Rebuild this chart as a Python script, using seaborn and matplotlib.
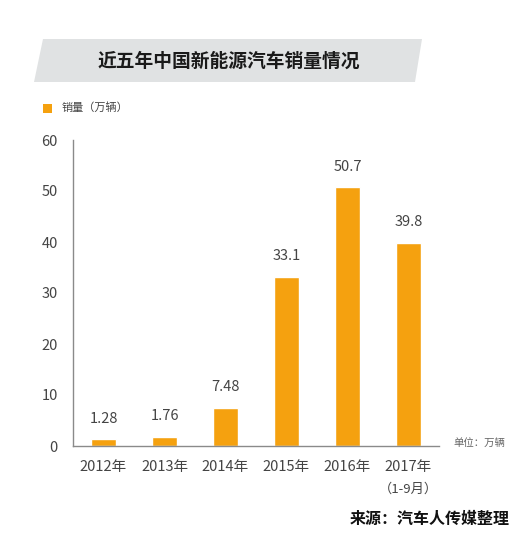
import matplotlib
matplotlib.use('agg')
import matplotlib.pyplot as plt
from matplotlib.patches import Polygon, Rectangle
import pandas as pd
import seaborn as sns

years = ["2012年", "2013年", "2014年", "2015年", "2016年", "2017年"]
sales = [1.28, 1.76, 7.48, 33.1, 50.7, 39.8]
value_labels = ["1.28", "1.76", "7.48", "33.1", "50.7", "39.8"]
y_ticks = [0, 10, 20, 30, 40, 50, 60]

title = "近五年中国新能源汽车销量情况"
legend_label = "销量（万辆）"
unit_note = "单位：万辆"
source_note = "来源：汽车人传媒整理"
last_note = "（1-9月）"

bar_color = "#F5A10F"
text_color = "#444444"
spine_color = "#8a8a8a"

sns.set_style("white")
plt.rcParams['font.family'] = ['Noto Sans CJK SC', 'DejaVu Sans']

df = pd.DataFrame({"year": years, "sales": sales})

fig = plt.figure(figsize=(5.3, 5.56), dpi=100)
W, H = 530, 556


def fx(x):
    return x / W


def fy(y):
    return 1 - y / H


# title band
band = Polygon([(fx(43), fy(39)), (fx(422), fy(39)), (fx(415), fy(82)),
                (fx(34), fy(82))], closed=True, transform=fig.transFigure,
               facecolor="#e0e2e3", edgecolor="none", zorder=1)
fig.patches.append(band)
fig.text(fx(229), fy(61), title, fontsize=13.5, fontweight="bold",
         color="#1a1a1a", ha="center", va="center", zorder=2)

# legend
fig.patches.append(Rectangle((fx(43), fy(113)), 9 / W, 9 / H,
                             transform=fig.transFigure, facecolor=bar_color,
                             edgecolor="none"))
fig.text(fx(62), fy(108), legend_label, fontsize=8, color=text_color,
         ha="left", va="center")

ax = fig.add_axes([fx(73), fy(446), 366 / W, 306 / H])
ax.patch.set_alpha(0)
sns.barplot(data=df, x="year", y="sales", color=bar_color, width=0.4,
            saturation=1, ax=ax)

ax.set_xlim(-0.5, len(years) - 0.5)
ax.set_ylim(0, 60)
ax.set_yticks(y_ticks)
ax.set_xlabel("")
ax.set_ylabel("")
sns.despine(ax=ax)
for s in ["left", "bottom"]:
    ax.spines[s].set_color(spine_color)
    ax.spines[s].set_linewidth(1)

ax.tick_params(axis="y", direction="in", length=7, width=1,
               color=spine_color, labelsize=10.5, labelcolor=text_color,
               pad=11)
ax.tick_params(axis="x", which="major", length=0, labelsize=10.5,
               labelcolor=text_color, pad=10)
ax.set_xticks([i + 0.5 for i in range(len(years) - 1)] + [len(years) - 0.5],
              minor=True)
ax.tick_params(axis="x", which="minor", direction="in", length=5, width=1,
               color=spine_color)

for i, (v, lab) in enumerate(zip(sales, value_labels)):
    ax.annotate(lab, (i, v), xytext=(0, 10), textcoords="offset points",
                ha="center", va="bottom", fontsize=10.5, color=text_color)

ax.text(len(years) - 1, -0.12, last_note, transform=ax.get_xaxis_transform(),
        ha="center", va="top", fontsize=9.5, color=text_color)

fig.text(fx(453), fy(443), unit_note, fontsize=7.5, color="#666666",
         ha="left", va="center")
fig.text(fx(510), fy(519), source_note, fontsize=11.5, fontweight="bold",
         color="#111111", ha="right", va="center")

fig.savefig("out.png", dpi=100)
